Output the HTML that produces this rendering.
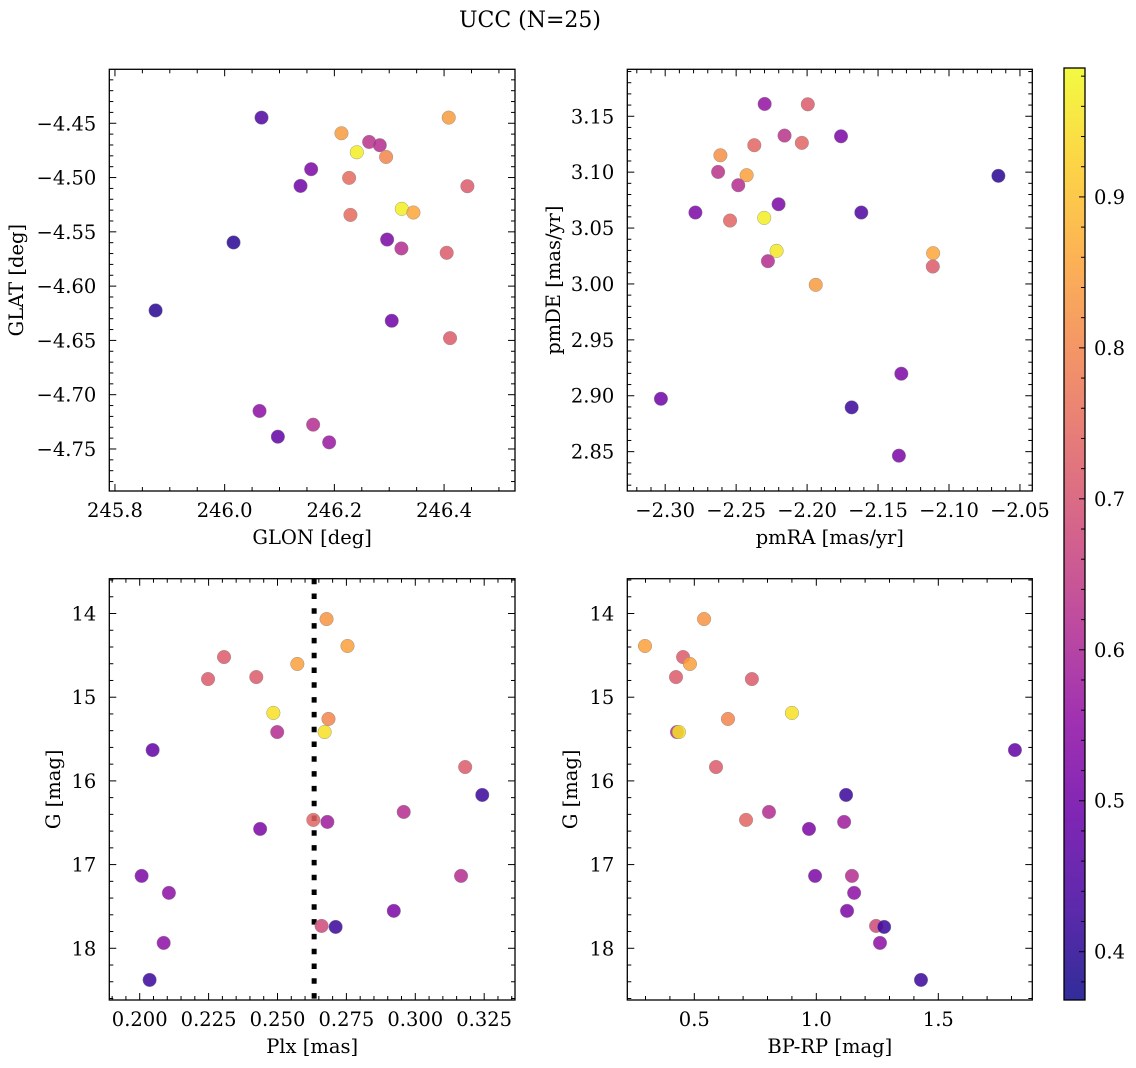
<!DOCTYPE html>
<html><head><meta charset="utf-8">
<style>
html,body{margin:0;padding:0;background:#fff;}
svg{display:block;font-family:"DejaVu Serif","Liberation Serif",serif;}
</style></head>
<body>
<svg id="fig" width="1136" height="1068" viewBox="0 0 1136 1068" xmlns="http://www.w3.org/2000/svg">
<text x="530" y="27" font-size="22" text-anchor="middle">UCC (N=25)</text>
</svg>
<script>
// ---- Panel 1: GLON vs GLAT ----
const glon1 = [246.0672,246.2129,246.4085,246.2634,246.2828,246.2409,246.2943,246.1577,246.1383,246.2269,246.4425,246.3229,246.3441,246.2293,246.0162,246.2962,246.3222,246.4048,245.8741,246.3046,246.4109,246.0636,246.1613,246.0970,246.1905];
const glat1 = [-4.4448,-4.4592,-4.4448,-4.4672,-4.4702,-4.4767,-4.4810,-4.4923,-4.5077,-4.5003,-4.5080,-4.5288,-4.5322,-4.5344,-4.5598,-4.5571,-4.5653,-4.5693,-4.6224,-4.6319,-4.6479,-4.7150,-4.7276,-4.7387,-4.7439];
const prob1 = [0.45,0.84,0.84,0.63,0.62,0.97,0.80,0.52,0.50,0.75,0.72,0.97,0.86,0.75,0.40,0.52,0.62,0.72,0.40,0.50,0.72,0.55,0.62,0.48,0.57];
// ---- Panel 2: pmRA vs pmDE ----
const pmra2 = [-2.2299,-2.1995,-2.2159,-2.2372,-2.2037,-2.1761,-2.2611,-2.2627,-2.2426,-2.2485,-2.0652,-2.2787,-2.2201,-2.2543,-2.2302,-2.1618,-2.2215,-2.2276,-2.1112,-2.1114,-2.1939,-2.3030,-2.1336,-2.1686,-2.1353];
const pmde2 = [3.1610,3.1607,3.1327,3.1241,3.1262,3.1321,3.1151,3.1002,3.0973,3.0883,3.0967,3.0639,3.0713,3.0567,3.0591,3.0639,3.0296,3.0204,3.0275,3.0156,2.9992,2.8973,2.9197,2.8896,2.8464];
const prob2 = [0.56,0.72,0.63,0.74,0.74,0.52,0.82,0.63,0.85,0.62,0.40,0.52,0.52,0.74,0.97,0.45,0.96,0.62,0.86,0.72,0.84,0.50,0.52,0.42,0.52];
// ---- Panels 3/4: Plx, BP-RP vs G ----
const gmag = [14.066,14.388,14.520,14.603,14.759,14.783,15.188,15.260,15.416,15.416,15.631,15.834,16.168,16.371,16.466,16.490,16.574,17.135,17.135,17.338,17.553,17.733,17.745,17.936,18.378];
const plx = [0.2678,0.2754,0.2306,0.2572,0.2423,0.2248,0.2485,0.2685,0.2499,0.2671,0.2047,0.3181,0.3243,0.2958,0.2630,0.2681,0.2437,0.2007,0.3166,0.2106,0.2922,0.2660,0.2711,0.2087,0.2036];
const bprp = [0.540,0.298,0.454,0.482,0.425,0.736,0.900,0.638,0.429,0.437,1.814,0.589,1.122,0.806,0.712,1.114,0.970,0.995,1.146,1.155,1.126,1.245,1.278,1.261,1.429];
const prob34 = [0.83,0.85,0.72,0.85,0.72,0.72,0.95,0.80,0.62,0.95,0.48,0.72,0.42,0.62,0.74,0.58,0.52,0.52,0.62,0.55,0.52,0.68,0.42,0.55,0.42];
const plxLine = [0.2633];
// ---- tick labels ----
const ticks1x = [245.8,246.0,246.2,246.4];
const ticks1y = [-4.45,-4.50,-4.55,-4.60,-4.65,-4.70,-4.75];
const ticks2x = [-2.30,-2.25,-2.20,-2.15,-2.10,-2.05];
const ticks2y = [2.85,2.90,2.95,3.00,3.05,3.10,3.15];
const ticks3x = [0.200,0.225,0.250,0.275,0.300,0.325];
const ticksG = [14,15,16,17,18];
const ticks4x = [0.5,1.0,1.5];
const ticksCb = [0.4,0.5,0.6,0.7,0.8,0.9];
const cbMin = 0.368, cbMax = 0.9854;

const NS = "http://www.w3.org/2000/svg";
const svg = document.getElementById('fig');
const FS = 19.5;
function el(tag, attrs, parent){
  const e = document.createElementNS(NS, tag);
  for (const k in attrs) e.setAttribute(k, attrs[k]);
  (parent||svg).appendChild(e);
  return e;
}
const stops = ["#0d0887","#41049d","#6a00a8","#8f0da4","#b12a90","#cc4778","#e16462","#f2844b","#fca636","#fcce25","#f0f921"];
function hex(h){return [parseInt(h.substr(1,2),16),parseInt(h.substr(3,2),16),parseInt(h.substr(5,2),16)];}
function plasmaT(t){
  t=Math.max(0,Math.min(1,t));
  const s=t*10, i=Math.min(9,Math.floor(s)), f=s-i;
  const a=hex(stops[i]), b=hex(stops[i+1]);
  return `rgb(${Math.round(a[0]+(b[0]-a[0])*f)},${Math.round(a[1]+(b[1]-a[1])*f)},${Math.round(a[2]+(b[2]-a[2])*f)})`;
}
function plasma(v){ return plasmaT((v-cbMin)/(cbMax-cbMin)); }
function fmt(v,d){ const s=v.toFixed(d); return s.replace('-','\u2212'); }

function panel(o){
  const g = el('g',{});
  
  
  const sx = v => o.x0 + (v-o.xmin)/(o.xmax-o.xmin)*(o.x1-o.x0);
  const sy = v => o.inv ? o.y0 + (v-o.ymin)/(o.ymax-o.ymin)*(o.y1-o.y0)
                        : o.y1 - (v-o.ymin)/(o.ymax-o.ymin)*(o.y1-o.y0);
  const mt = el('g',{stroke:'#000','stroke-width':1},g);
  
  
  for (let k=Math.ceil(o.xmin/o.xminor-1e-6); k*o.xminor<=o.xmax+1e-9; k++){
    const v=k*o.xminor, x=sx(v);
    const major = Math.abs(Math.round(v/o.xmajor)*o.xmajor - v) < o.xminor*0.01;
    const L = major?7:4;
    el('line',{x1:x,x2:x,y1:o.y1,y2:o.y1-L},mt);
    el('line',{x1:x,x2:x,y1:o.y0,y2:o.y0+L},mt);
  }
  const ylo=Math.min(o.ymin,o.ymax), yhi=Math.max(o.ymin,o.ymax);
  for (let k=Math.ceil(ylo/o.yminor-1e-6); k*o.yminor<=yhi+1e-9; k++){
    const v=k*o.yminor, y=sy(v);
    const major = Math.abs(Math.round(v/o.ymajor)*o.ymajor - v) < o.yminor*0.01;
    const L = major?7:4;
    el('line',{x1:o.x0,x2:o.x0+L,y1:y,y2:y},mt);
    el('line',{x1:o.x1,x2:o.x1-L,y1:y,y2:y},mt);
  }
  o.xt.forEach(v=>{
    const t=el('text',{x:sx(v),y:o.y1+26,'font-size':FS,'text-anchor':'middle'},g);
    
    
    t.textContent=fmt(v,o.xd);
  });
  o.yt.forEach(v=>{
    const t=el('text',{x:o.x0-13,y:sy(v)+7,'font-size':FS,'text-anchor':'end'},g);
    
    
    t.textContent=fmt(v,o.yd);
  });
  const xl=el('text',{x:(o.x0+o.x1)/2,y:o.y1+53,'font-size':FS,'text-anchor':'middle'},g);
  
  
  xl.textContent=o.xlabel;
  const cy=(o.y0+o.y1)/2;
  const yl=el('text',{x:o.ylx,y:cy,'font-size':FS,'text-anchor':'middle',transform:`rotate(-90 ${o.ylx} ${cy})`},g);
  
  
  yl.textContent=o.ylabel;
  if (o.vline){
    o.vline.forEach(v=>{
      const ln=el('line',{x1:sx(v),x2:sx(v),y1:o.y0,y2:o.y1,stroke:'#000','stroke-width':5,'stroke-dasharray':'5.5 9.3'},g);
      
      
    });
  }
  const pg = el('g',{},g);
  
  
  o.xs.forEach((xv,i)=>{
    const c=el('circle',{cx:sx(xv),cy:sy(o.ys[i]),r:6.8,fill:plasma(o.c[i]),'fill-opacity':0.85,stroke:'#888','stroke-width':0.5,'stroke-opacity':0.8},pg);
    
    
  });
  const fr=el('rect',{x:o.x0,y:o.y0,width:o.x1-o.x0,height:o.y1-o.y0,fill:'none',stroke:'#000','stroke-width':1.3},g);
  
  
}

panel({name:'glon-glat-panel',x0:109.3,x1:515,y0:69.3,y1:491,xmin:245.7897,xmax:246.5293,ymin:-4.7887,ymax:-4.4003,
  xt:ticks1x,yt:ticks1y,xd:1,yd:2,xmajor:0.2,xminor:0.05,ymajor:0.05,yminor:0.01,
  xlabel:'GLON [deg]',ylabel:'GLAT [deg]',ylx:23,xs:glon1,ys:glat1,c:prob1});
panel({name:'pm-panel',x0:627.3,x1:1032.3,y0:69.3,y1:491,xmin:-2.3267,xmax:-2.0413,ymin:2.8148,ymax:3.1920,
  xt:ticks2x,yt:ticks2y,xd:2,yd:2,xmajor:0.05,xminor:0.01,ymajor:0.05,yminor:0.01,
  xlabel:'pmRA [mas/yr]',ylabel:'pmDE [mas/yr]',ylx:560,xs:pmra2,ys:pmde2,c:prob2});
panel({name:'plx-g-panel',x0:109.3,x1:515,y0:578.7,y1:1000,xmin:0.18897,xmax:0.33618,ymin:13.584,ymax:18.618,inv:true,
  xt:ticks3x,yt:ticksG,xd:3,yd:0,xmajor:0.025,xminor:0.005,ymajor:1,yminor:0.2,
  xlabel:'Plx [mas]',ylabel:'G [mag]',ylx:60,xs:plx,ys:gmag,c:prob34,vline:plxLine});
panel({name:'cmd-panel',x0:627.3,x1:1032.3,y0:578.7,y1:1000,xmin:0.2254,xmax:1.8852,ymin:13.584,ymax:18.618,inv:true,
  xt:ticks4x,yt:ticksG,xd:1,yd:0,xmajor:0.5,xminor:0.1,ymajor:1,yminor:0.2,
  xlabel:'BP-RP [mag]',ylabel:'G [mag]',ylx:577,xs:bprp,ys:gmag,c:prob34});

// colorbar
const cb = el('g',{});


const cbx0=1064, cbx1=1085, cby0=68, cby1=1000;
const defs = el('defs',{});
const grad = el('linearGradient',{id:'cbgrad',x1:0,y1:1,x2:0,y2:0},defs);
for(let i=0;i<=20;i++){
  el('stop',{offset:(i/20),'stop-color':plasmaT(i/20)},grad);
}
el('rect',{x:cbx0,y:cby0,width:cbx1-cbx0,height:cby1-cby0,fill:'url(#cbgrad)','fill-opacity':0.85},cb);
const cs = v => cby1-(v-cbMin)/(cbMax-cbMin)*(cby1-cby0);
for(let k=Math.ceil(cbMin/0.02); k*0.02<=cbMax; k++){
  const v=k*0.02, y=cs(v);
  const major=Math.abs(Math.round(v*10)/10-v)<1e-6;
  el('line',{x1:cbx1,x2:cbx1-(major?6:4),y1:y,y2:y,stroke:'#000','stroke-width':1},cb);
}
ticksCb.forEach(v=>{
  const t=el('text',{x:1094,y:cs(v)+7,'font-size':FS},cb);
  
  
  t.textContent=v.toFixed(1);
});
el('rect',{x:cbx0,y:cby0,width:cbx1-cbx0,height:cby1-cby0,fill:'none',stroke:'#000','stroke-width':1.3},cb);
</script>
</body></html>
